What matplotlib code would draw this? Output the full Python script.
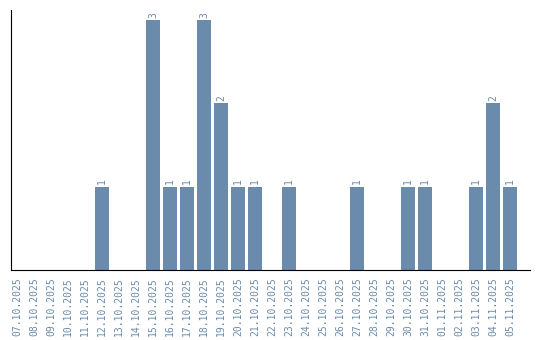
import matplotlib
matplotlib.use("Agg")
import matplotlib.pyplot as plt

dates = ["07.10.2025", "08.10.2025", "09.10.2025", "10.10.2025", "11.10.2025",
         "12.10.2025", "13.10.2025", "14.10.2025", "15.10.2025", "16.10.2025",
         "17.10.2025", "18.10.2025", "19.10.2025", "20.10.2025", "21.10.2025",
         "22.10.2025", "23.10.2025", "24.10.2025", "25.10.2025", "26.10.2025",
         "27.10.2025", "28.10.2025", "29.10.2025", "30.10.2025", "31.10.2025",
         "01.11.2025", "02.11.2025", "03.11.2025", "04.11.2025", "05.11.2025"]
counts = [0, 0, 0, 0, 0, 1, 0, 0, 3, 1, 1, 3, 2, 1, 1, 0, 1, 0, 0, 0,
          1, 0, 0, 1, 1, 0, 0, 1, 2, 1]

bar_color = "#6a8bab"
text_color = "#6a8bab"

fig = plt.figure(figsize=(5.4, 3.4), dpi=100)
ax = fig.add_axes([11/540, 70/340, 519/540, 260/340])
x = list(range(len(dates)))
ax.bar(x, counts, width=0.82, color=bar_color)
for xi, c in zip(x, counts):
    if c > 0:
        ax.text(xi, c + 0.03, str(c), rotation=90, ha="center", va="bottom",
                fontsize=7, color=text_color, family="DejaVu Sans Mono")
ax.set_xlim(-0.36, 30.18)
ax.set_ylim(0, 3.12)
ax.set_xticks(x)
ax.set_xticklabels(dates, rotation=90, fontsize=7, color=text_color,
                   family="DejaVu Sans Mono")
ax.tick_params(axis="x", length=0, pad=5)
ax.set_yticks([])
ax.spines["top"].set_visible(False)
ax.spines["right"].set_visible(False)
ax.spines["left"].set_color("black")
ax.spines["bottom"].set_color("black")
fig.savefig("out.png", dpi=100)
